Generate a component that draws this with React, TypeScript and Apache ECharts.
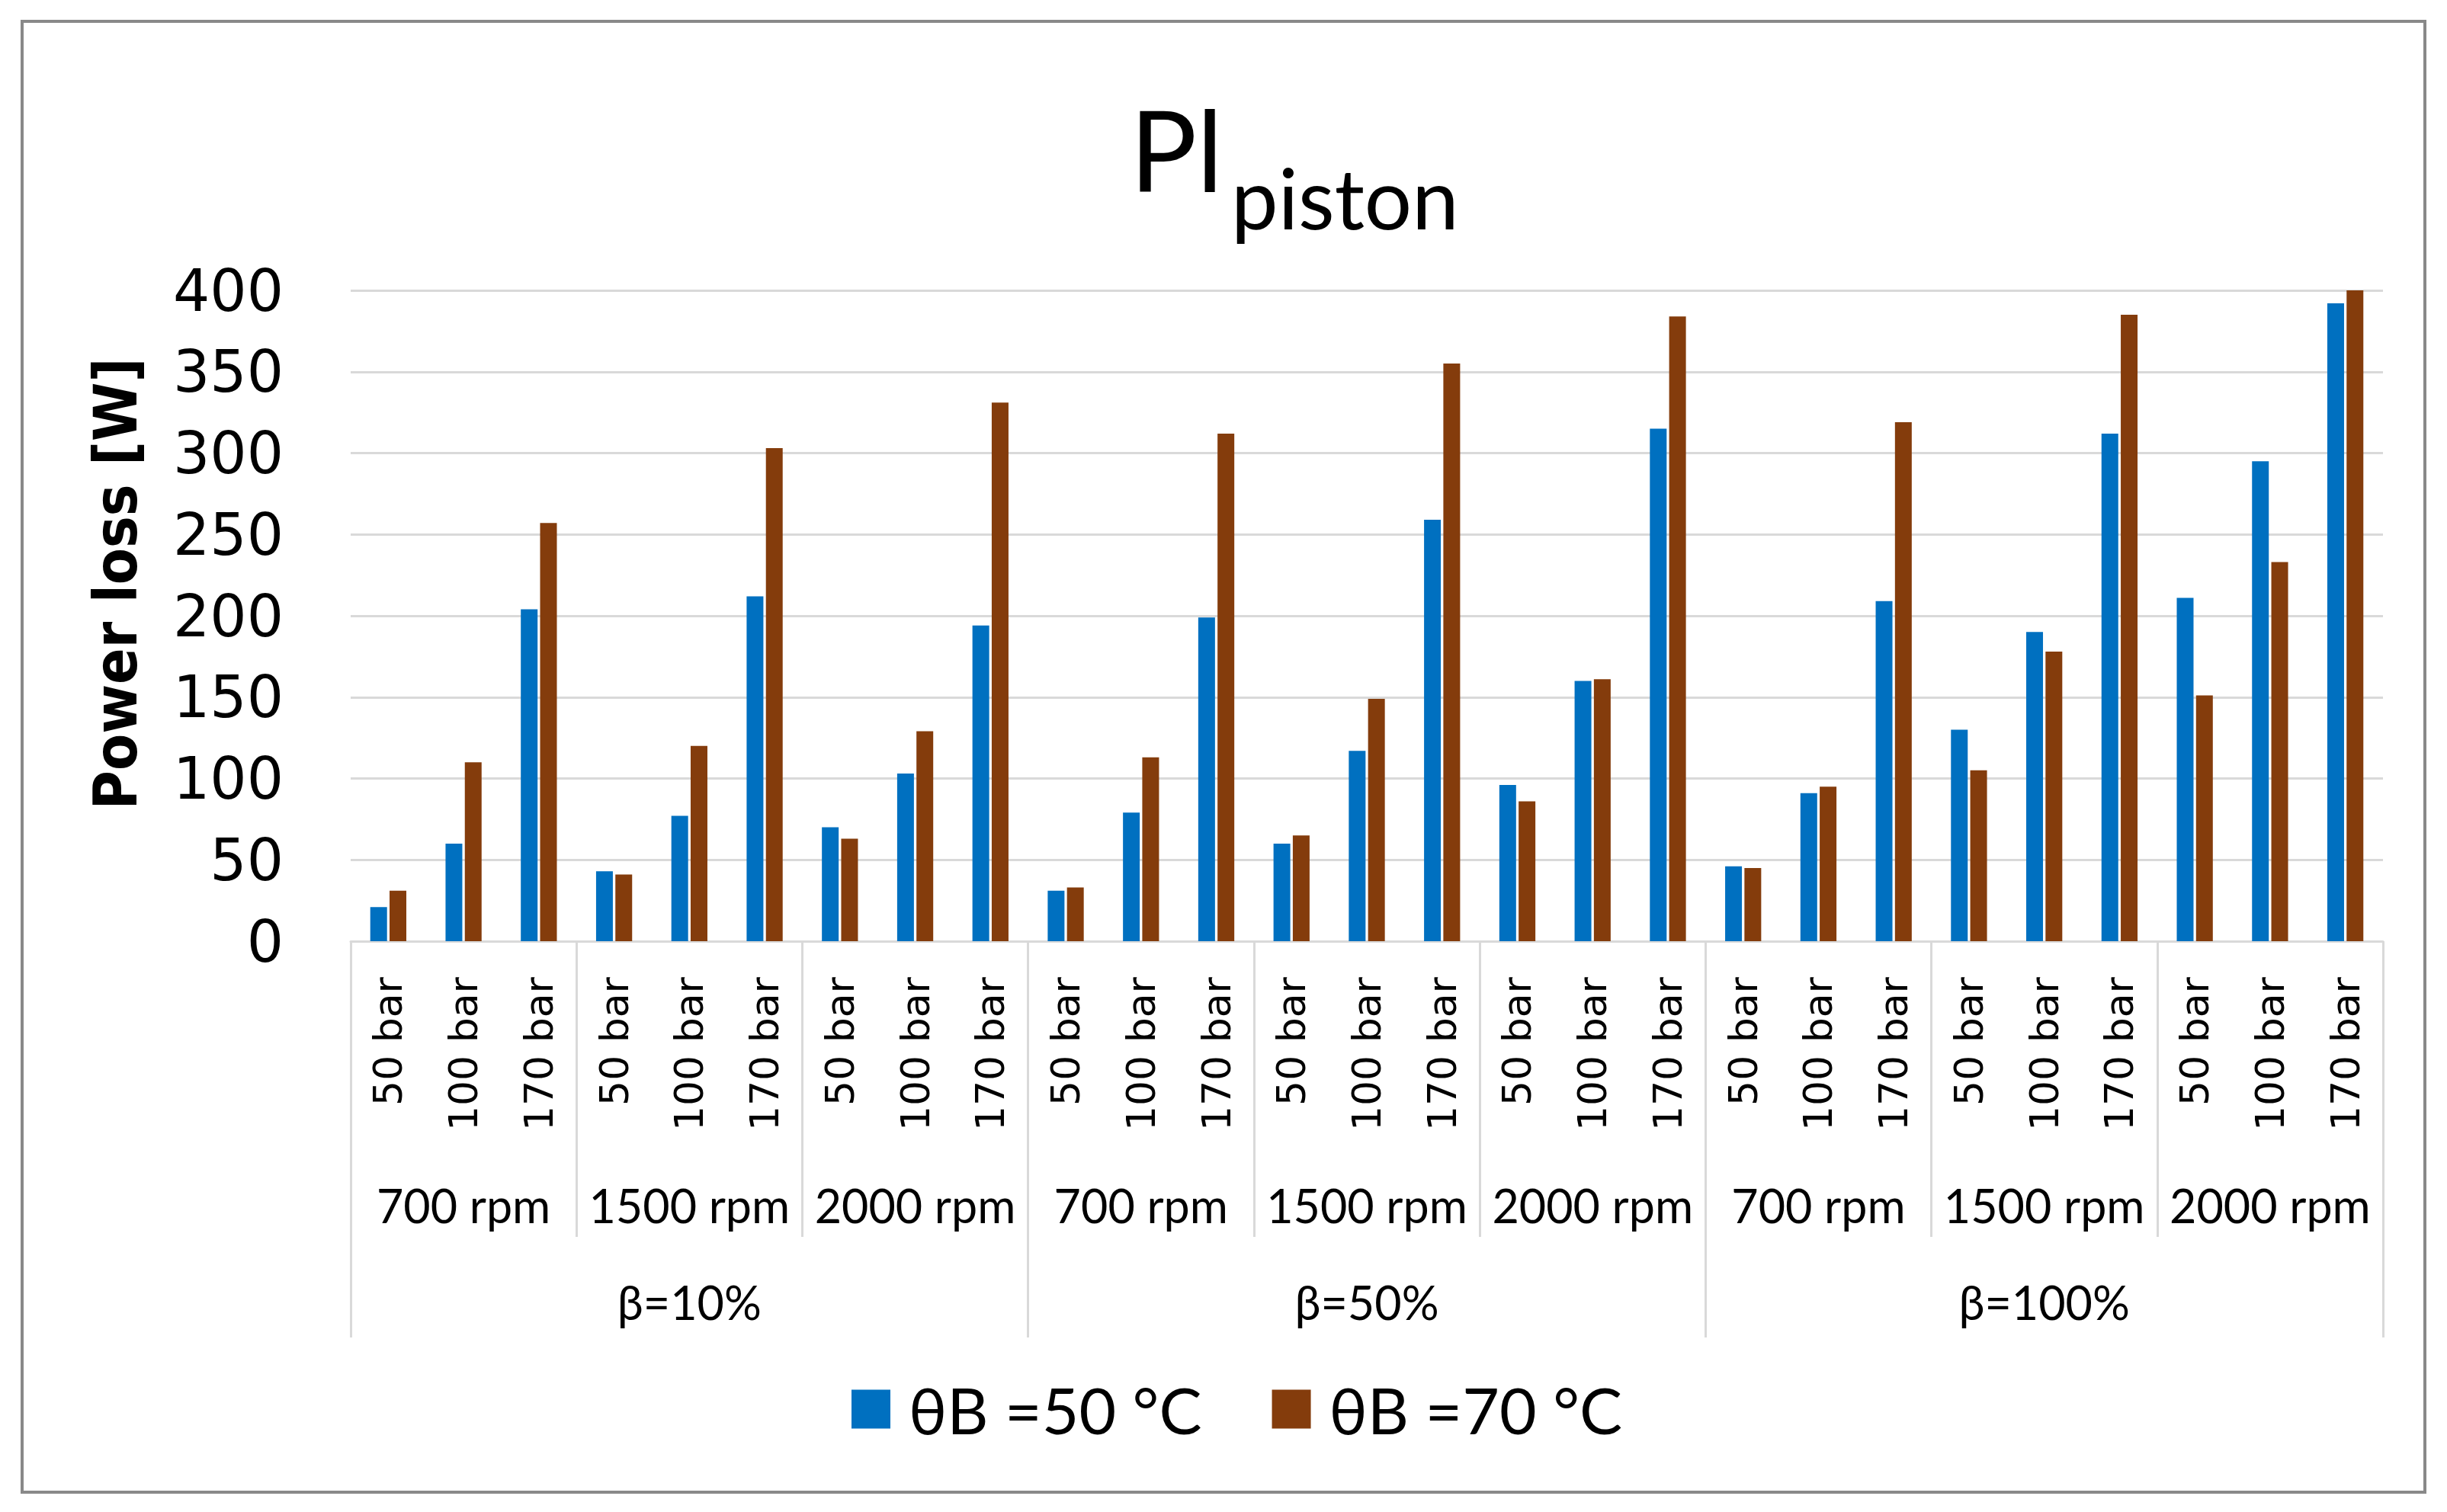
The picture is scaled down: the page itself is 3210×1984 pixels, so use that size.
import React, { useEffect, useRef } from "react";
import * as echarts from "echarts";

const pressureLabels = [
  "50 bar", "100 bar", "170 bar", "50 bar", "100 bar", "170 bar", "50 bar", "100 bar", "170 bar",
  "50 bar", "100 bar", "170 bar", "50 bar", "100 bar", "170 bar", "50 bar", "100 bar", "170 bar",
  "50 bar", "100 bar", "170 bar", "50 bar", "100 bar", "170 bar", "50 bar", "100 bar", "170 bar",
];
const speedLabels = [
  "700 rpm", "1500 rpm", "2000 rpm",
  "700 rpm", "1500 rpm", "2000 rpm",
  "700 rpm", "1500 rpm", "2000 rpm",
];
const betaLabels = ["β=10%", "β=50%", "β=100%"];

const seriesNames = ["θB =50 °C", "θB =70 °C"];

const values50C = [
  21, 60, 204, 43, 77, 212, 70, 103, 194,
  31, 79, 199, 60, 117, 259, 96, 160, 315,
  46, 91, 209, 130, 190, 312, 211, 295, 392,
];
const values70C = [
  31, 110, 257, 41, 120, 303, 63, 129, 331,
  33, 113, 312, 65, 149, 355, 86, 161, 384,
  45, 95, 319, 105, 178, 385, 151, 233, 400,
];

const yTicks = { min: 0, max: 400, interval: 50 };
const yAxisTitle = "Power loss [W]";

const GRID = "#d9d9d9";
const WIDE = "'DejaVu Sans', sans-serif";
const COND = "'DejaVu Sans Condensed', 'DejaVu Sans', sans-serif";
const NARROW = "Lato, 'Liberation Sans', sans-serif";

export default function App() {
  const ref = useRef<HTMLDivElement>(null);
  useEffect(() => {
    if (!ref.current) return;
    const chart = echarts.init(ref.current, null, { renderer: "svg" });
    chart.setOption({
      animation: false,
      backgroundColor: "#ffffff",
      color: ["#0070C0", "#843C0C"],
      graphic: [
        {
          type: "rect",
          shape: { x: 29, y: 28, width: 3152, height: 1930 },
          style: { fill: "none", stroke: "#898989", lineWidth: 4 },
          silent: true,
        },
        {
          type: "text",
          x: 1482,
          y: 195,
          style: { text: "Pl", fontFamily: NARROW, fontSize: 147, fill: "#000", verticalAlign: "middle", align: "left" },
        },
        {
          type: "text",
          x: 1615,
          y: 258,
          style: { text: "piston", fontFamily: NARROW, fontSize: 110, fill: "#000", verticalAlign: "middle", align: "left" },
        },
        {
          type: "text",
          x: 152,
          y: 766,
          rotation: Math.PI / 2,
          style: {
            text: yAxisTitle,
            fontFamily: COND,
            fontSize: 78,
            fontWeight: "bold",
            fill: "#000",
            align: "center",
            verticalAlign: "middle",
          },
        },
      ],
      legend: {
        left: 1112,
        top: 1802,
        itemWidth: 51,
        itemHeight: 51,
        itemGap: 92,
        icon: "rect",
        data: seriesNames,
        textStyle: { fontFamily: NARROW, fontSize: 84, color: "#000", padding: [0, 0, 0, 19] },
      },
      grid: { left: 460, right: 84, top: 381, bottom: 749, containLabel: false },
      xAxis: [
        {
          type: "category",
          data: pressureLabels,
          position: "bottom",
          axisLine: { show: true, lineStyle: { color: GRID, width: 3 } },
          axisTick: { show: false },
          axisLabel: {
            rotate: 90,
            interval: 0,
            margin: 47,
            fontFamily: WIDE,
            fontSize: 52,
            color: "#000",
          },
        },
        {
          type: "category",
          data: speedLabels,
          position: "bottom",
          axisLine: { show: false },
          axisTick: { show: true, length: 388, lineStyle: { color: GRID, width: 3 } },
          axisLabel: { interval: 0, margin: 316, fontFamily: NARROW, fontSize: 61, color: "#000" },
          splitLine: { show: false },
        },
        {
          type: "category",
          data: betaLabels,
          position: "bottom",
          axisLine: { show: false },
          axisTick: { show: true, length: 520, lineStyle: { color: GRID, width: 3 } },
          axisLabel: { interval: 0, margin: 443, fontFamily: NARROW, fontSize: 61, color: "#000" },
          splitLine: { show: false },
        },
      ],
      yAxis: {
        type: "value",
        min: yTicks.min,
        max: yTicks.max,
        interval: yTicks.interval,
        axisLine: { show: false },
        axisTick: { show: false },
        axisLabel: { margin: 88, fontFamily: WIDE, fontSize: 76, color: "#000" },
        splitLine: { lineStyle: { color: GRID, width: 3 } },
      },
      series: [
        {
          name: seriesNames[0],
          type: "bar",
          xAxisIndex: 0,
          data: values50C,
          barWidth: 22,
          barGap: "15%",
        },
        {
          name: seriesNames[1],
          type: "bar",
          xAxisIndex: 0,
          data: values70C,
          barWidth: 22,
          barGap: "15%",
        },
      ],
    });
    return () => chart.dispose();
  }, []);
  return (
    <div
      ref={ref}
      style={{ position: "fixed", left: 0, top: 0, width: "3210px", height: "1984px", background: "#fff" }}
    />
  );
}
